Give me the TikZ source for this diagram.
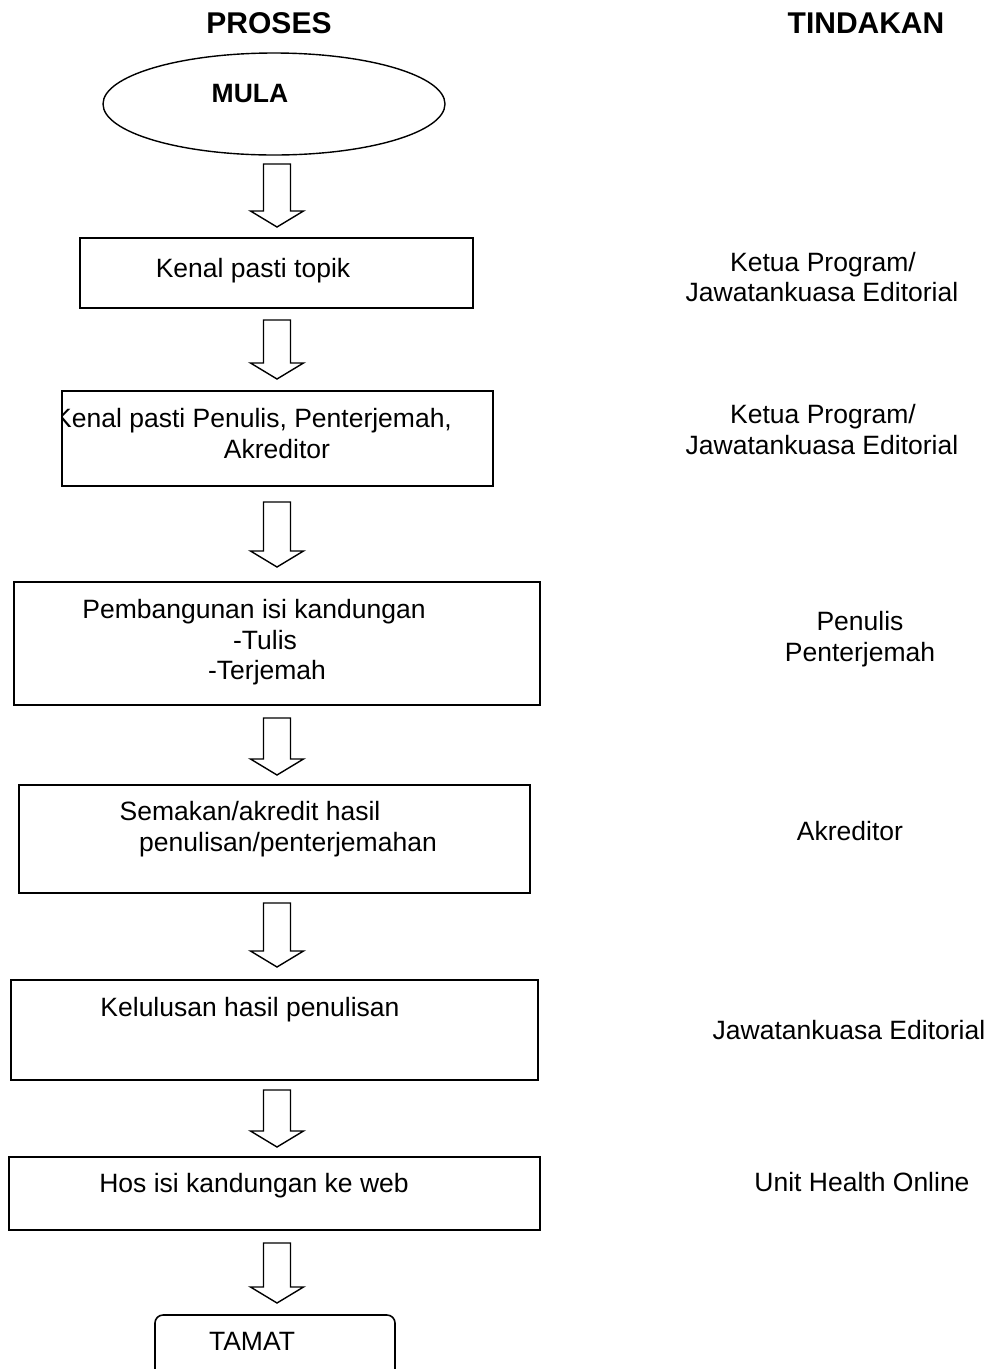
\documentclass[tikz,border=0pt]{standalone}
\usepackage{fontspec}
\setmainfont{Liberation Sans}
\usetikzlibrary{shapes.geometric,calc}

\newcommand{\bodysize}{\fontsize{26.5}{31}\selectfont}
\newcommand{\headsize}{\fontsize{30}{36}\selectfont}

% Hollow block arrow between two named nodes: #3 = gap below the upper node,
% #4 = gap above the lower node (in pt)
\newcommand{\blockarr}[4]{%
  \draw[blockarrow] let \p1=(#1.south), \p2=(#2.north) in
    (263.5pt,\y1-#3pt) -- (290.5pt,\y1-#3pt) -- (290.5pt,\y2+#4pt+16pt)
    -- (303.5pt,\y2+#4pt+16pt) -- (277pt,\y2+#4pt) -- (250.5pt,\y2+#4pt+16pt)
    -- (263.5pt,\y2+#4pt+16pt) -- cycle;}

\begin{document}
\begin{tikzpicture}[x=1pt,y=-1pt,
  box/.style={draw, line width=1.6pt, rectangle, inner sep=0pt, outer sep=0pt, anchor=north west},
  blockarrow/.style={draw, line width=1.4pt, line join=miter, fill=white},
  txt/.style={inner sep=0pt, anchor=base, font=\bodysize},
  head/.style={inner sep=0pt, anchor=base, font=\bfseries\headsize}]
\useasboundingbox (0,0) rectangle (990,1369);
\clip (0,0) rectangle (990,1369);

% column headings
\node[head] (hproc) at (269,33) {PROSES};
\node[head] (hact) at (866,33) {TINDAKAN};

% start
\node[draw, ellipse, line width=1.4pt, minimum width=342pt, minimum height=102pt, inner sep=0pt, outer sep=0pt] (start) at (274,104) {};
\node[txt, font=\bfseries\bodysize] (startlbl) at (250,102) {MULA};

% process steps
\node[box, minimum width=393pt, minimum height=70pt] (b1) at (80,238) {};
\node[txt] (t1) at (253,277) {Kenal pasti topik};

\begin{scope}
  \clip (62,391) rectangle (493,486);
  \node[txt, anchor=base west] (t2a) at (54,427) {Kenal pasti Penulis, Penterjemah,};
\end{scope}
\node[box, minimum width=431pt, minimum height=95pt] (b2) at (62,391) {};
\node[txt] (t2b) at (277,458) {Akreditor};

\node[box, minimum width=526pt, minimum height=123pt] (b3) at (14,582) {};
\node[txt] (t3a) at (254,618) {Pembangunan isi kandungan};
\node[txt] (t3b) at (265,649) {-Tulis};
\node[txt] (t3c) at (267,679) {-Terjemah};

\node[box, minimum width=511pt, minimum height=108pt] (b4) at (19,785) {};
\node[txt] (t4a) at (250,820) {Semakan/akredit hasil};
\node[txt] (t4b) at (288,851) {penulisan/penterjemahan};

\node[box, minimum width=527pt, minimum height=100pt] (b5) at (11,980) {};
\node[txt] (t5) at (250,1016) {Kelulusan hasil penulisan};

\node[box, minimum width=531pt, minimum height=73pt] (b6) at (9,1157) {};
\node[txt] (t6) at (254,1192) {Hos isi kandungan ke web};

% end
\node[box, rounded corners=8pt, minimum width=240pt, minimum height=80pt] (end) at (155,1315) {};
\node[txt] (endlbl) at (252,1350) {TAMAT};

% flow arrows
\blockarr{start}{b1}{9}{11}
\blockarr{b1}{b2}{12}{12}
\blockarr{b2}{b3}{16}{15}
\blockarr{b3}{b4}{13}{10}
\blockarr{b4}{b5}{10}{13}
\blockarr{b5}{b6}{10}{10}
\blockarr{b6}{end}{13}{12}

% responsible parties
\node[txt] (r1a) at (823,271) {Ketua Program/};
\node[txt] (r1b) at (822,301) {Jawatankuasa Editorial};
\node[txt] (r2a) at (823,423) {Ketua Program/};
\node[txt] (r2b) at (822,454) {Jawatankuasa Editorial};
\node[txt] (r3a) at (860,630) {Penulis};
\node[txt] (r3b) at (860,661) {Penterjemah};
\node[txt] (r4) at (850,840) {Akreditor};
\node[txt] (r5) at (849,1039) {Jawatankuasa Editorial};
\node[txt] (r6) at (862,1191) {Unit Health Online};
\end{tikzpicture}
\end{document}
